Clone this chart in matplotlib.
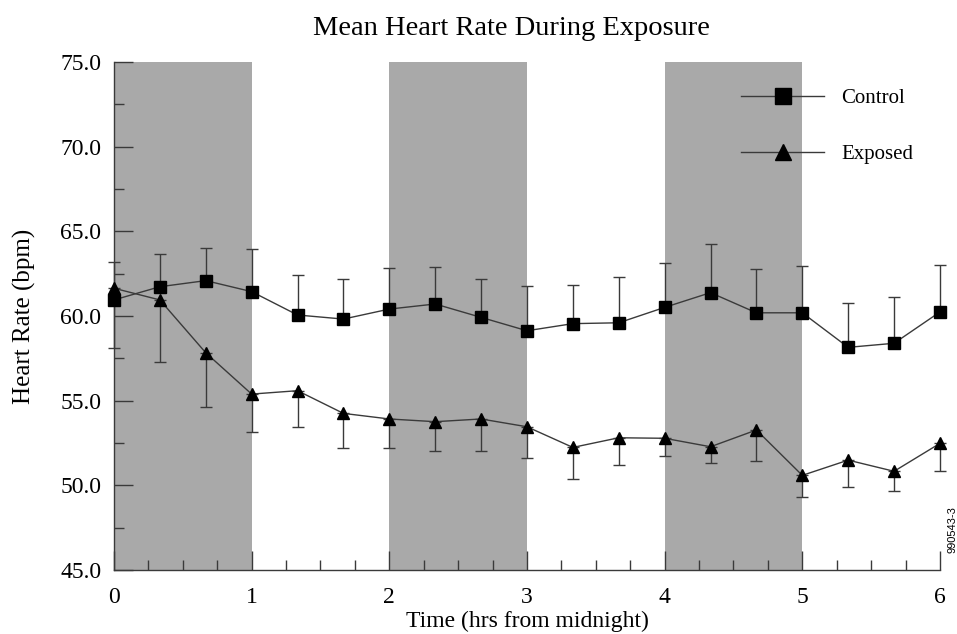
import matplotlib
matplotlib.use("Agg")
import matplotlib.pyplot as plt
from matplotlib.ticker import MultipleLocator, FormatStrFormatter

plt.rcParams['font.family'] = ['Liberation Serif', 'DejaVu Serif']

# ---- data ----
hours = [0, 1/3, 2/3, 1, 4/3, 5/3, 2, 7/3, 8/3, 3, 10/3, 11/3, 4, 13/3, 14/3, 5, 16/3, 17/3, 6]
control = [60.95, 61.73, 62.09, 61.44, 60.06, 59.82, 60.41, 60.71, 59.92, 59.13,
           59.55, 59.60, 60.51, 61.38, 60.19, 60.19, 58.15, 58.39, 60.24]
control_err = [2.26, 1.93, 1.93, 2.52, 2.36, 2.37, 2.41, 2.17, 2.25, 2.62,
               2.30, 2.72, 2.60, 2.87, 2.57, 2.76, 2.60, 2.75, 2.75]
exposed = [61.64, 60.95, 57.83, 55.39, 55.59, 54.25, 53.92, 53.76, 53.92, 53.46,
           52.24, 52.81, 52.78, 52.28, 53.27, 50.59, 51.49, 50.83, 52.48]
exposed_err = [3.51, 3.68, 3.19, 2.22, 2.15, 2.06, 1.70, 1.73, 1.89, 1.85,
               1.87, 1.61, 1.05, 0.98, 1.85, 1.26, 1.59, 1.15, 1.62]
shaded = [(0, 1), (2, 3), (4, 5)]
series_labels = ["Control", "Exposed"]

# ---- figure ----
fig = plt.figure(figsize=(9.57, 6.34), dpi=100)
ax = fig.add_axes([0.1191, 0.1009, 0.8631, 0.8013])

for a, b in shaded:
    ax.axvspan(a, b, color='#a9a9a9', lw=0, zorder=0)

line_col = '#3a3a3a'
zeros = [0] * len(hours)
for vals, err in [(control, [zeros, control_err]), (exposed, [exposed_err, zeros])]:
    eb = ax.errorbar(hours, vals, yerr=err, fmt='none', ecolor=line_col,
                     elinewidth=1, capsize=4, capthick=1, zorder=2)
    for art in eb.lines[1] + eb.lines[2]:
        art.set_clip_on(False)

ax.plot(hours, control, color=line_col, lw=1, marker='s', markersize=8,
        markerfacecolor='black', markeredgecolor='black', label=series_labels[0],
        zorder=3, clip_on=False)
ax.plot(hours, exposed, color=line_col, lw=1, marker='^', markersize=8,
        markerfacecolor='black', markeredgecolor='black', label=series_labels[1],
        zorder=3, clip_on=False)

ax.set_xlim(0, 6)
ax.set_ylim(45, 75)
ax.xaxis.set_major_locator(MultipleLocator(1))
ax.xaxis.set_minor_locator(MultipleLocator(0.25))
ax.yaxis.set_major_locator(MultipleLocator(5))
ax.yaxis.set_minor_locator(MultipleLocator(2.5))
ax.yaxis.set_major_formatter(FormatStrFormatter('%.1f'))

for s in ['top', 'right']:
    ax.spines[s].set_visible(False)
for s in ['left', 'bottom']:
    ax.spines[s].set_color(line_col)
    ax.spines[s].set_linewidth(1)

ax.tick_params(axis='both', which='major', direction='in', length=14, width=1,
               color=line_col, labelsize=17)
ax.tick_params(axis='both', which='minor', direction='in', length=7, width=1,
               color=line_col)
ax.tick_params(axis='x', which='major', pad=12)
ax.tick_params(axis='y', which='major', pad=9)

ax.set_xlabel("Time (hrs from midnight)", fontsize=17, labelpad=2)
ax.set_ylabel("Heart Rate (bpm)", fontsize=18)
ax.yaxis.set_label_coords(-0.094, 0.5)
fig.text(0.5347, 0.955, "Mean Heart Rate During Exposure", ha='center', va='center',
         fontsize=20.5)

leg = ax.legend(loc='upper left', bbox_to_anchor=((741 - 114) / 826, 0.948),
                frameon=False, fontsize=15, handlelength=4.0, handletextpad=0.8,
                labelspacing=1.75, borderpad=0, borderaxespad=0, markerscale=1.4)

fig.text(0.995, 0.165, "990543-3", rotation=90, ha='center', va='center', fontsize=8,
         family=['Liberation Sans', 'DejaVu Sans'])

fig.savefig("out.png", dpi=100)
